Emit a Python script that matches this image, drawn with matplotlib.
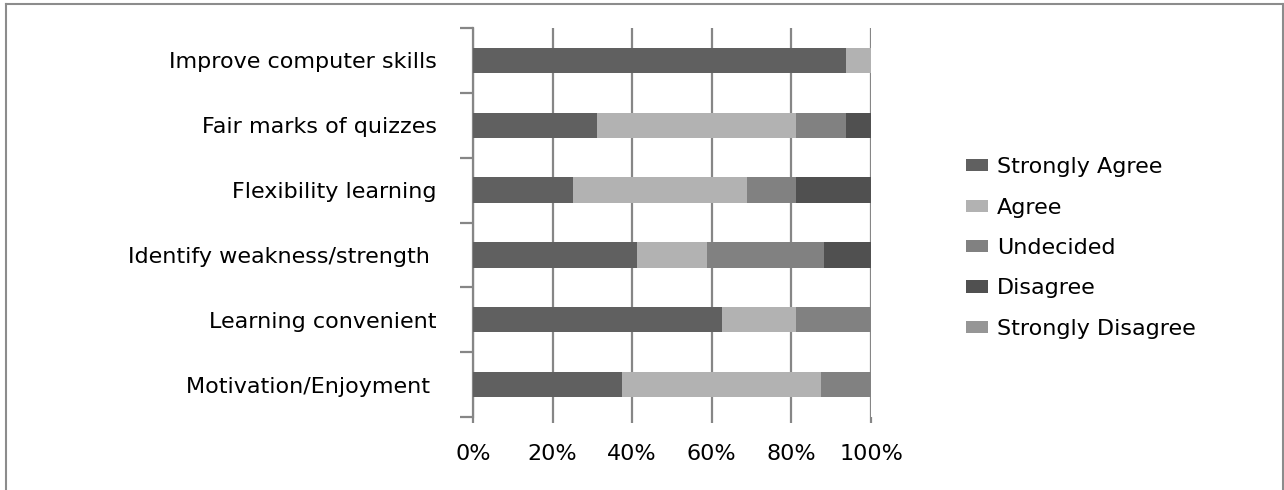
import matplotlib
matplotlib.use("Agg")
import matplotlib.pyplot as plt
from matplotlib.lines import Line2D
import numpy as np

plt.rcParams['font.family'] = ['DejaVu Sans']

# Survey items, listed top to bottom
categories = [
    "Improve computer skills",
    "Fair marks of quizzes",
    "Flexibility learning",
    "Identify weakness/strength ",
    "Learning convenient",
    "Motivation/Enjoyment ",
]

# Share of responses (%) per item
strongly_agree = [93.75, 31.25, 25.0, 41.2, 62.5, 37.5]
agree = [6.25, 50.0, 43.75, 17.6, 18.75, 50.0]
undecided = [0.0, 12.5, 12.5, 29.4, 18.75, 12.5]
disagree = [0.0, 6.25, 18.75, 11.8, 0.0, 0.0]
strongly_disagree = [0.0, 0.0, 0.0, 0.0, 0.0, 0.0]

series_names = ["Strongly Agree", "Agree", "Undecided", "Disagree", "Strongly Disagree"]
series_values = [strongly_agree, agree, undecided, disagree, strongly_disagree]
series_colors = ["#606060", "#b2b2b2", "#818181", "#505050", "#969696"]

x_ticks = [0, 20, 40, 60, 80, 100]
x_tick_labels = ["0%", "20%", "40%", "60%", "80%", "100%"]

W, H = 1284, 490
FS = 16
fig = plt.figure(figsize=(W / 100, H / 100), dpi=100)
fig.patch.set_facecolor("white")
ax = fig.add_axes([473 / W, 1 - 417 / H, (871 - 473) / W, (417 - 28) / H])

y = np.arange(len(categories))
left = np.zeros(len(categories))
for name, vals, col in zip(series_names, series_values, series_colors):
    vals = np.asarray(vals, dtype=float)
    ax.barh(y, vals, left=left, height=0.39, color=col, label=name, zorder=3)
    left += vals

grid_col = "#868686"
ax.set_xlim(0, 100)
ax.set_ylim(len(categories) - 0.5, -0.5)
ax.set_axisbelow(True)
ax.xaxis.grid(True, color=grid_col, linewidth=1.6, zorder=0)

for side in ("top", "right", "bottom"):
    ax.spines[side].set_visible(False)
ax.spines["left"].set_color(grid_col)
ax.spines["left"].set_linewidth(1.6)

ax.set_xticks(x_ticks)
ax.set_xticklabels(x_tick_labels)
ax.tick_params(axis="x", direction="out", length=4.5, width=1.6, color=grid_col,
               pad=15, labelsize=FS)

ax.set_yticks(y)
ax.set_yticklabels(categories)
ax.tick_params(axis="y", which="major", length=0, pad=26, labelsize=FS)
ax.set_yticks(np.arange(-0.5, len(categories), 1.0), minor=True)
ax.tick_params(axis="y", which="minor", direction="out", length=9.5, width=1.6,
               color=grid_col)

leg = ax.legend(loc="center left", bbox_to_anchor=(966 / W, 1 - 248 / H),
                bbox_transform=fig.transFigure, frameon=False, fontsize=FS,
                handlelength=0.98, handleheight=0.46, handletextpad=0.4,
                labelspacing=0.92, borderpad=0, borderaxespad=0)

# Chart-area border (open at the bottom edge)
bc = "#8c8c8c"
px = lambda v: v / W
py = lambda v: 1 - v / H
fig.add_artist(Line2D([px(6), px(1283)], [py(4), py(4)], color=bc, lw=1.5,
                      transform=fig.transFigure))
fig.add_artist(Line2D([px(6), px(6)], [py(4), py(490)], color=bc, lw=1.5,
                      transform=fig.transFigure))
fig.add_artist(Line2D([px(1283), px(1283)], [py(4), py(490)], color=bc, lw=1.5,
                      transform=fig.transFigure))

fig.savefig("out.png", dpi=100, facecolor="white")
